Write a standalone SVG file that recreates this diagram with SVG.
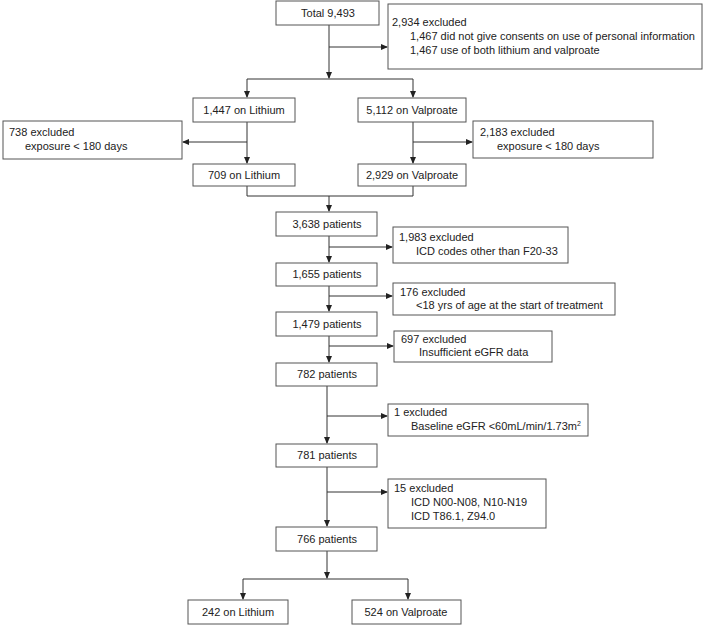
<svg xmlns="http://www.w3.org/2000/svg" width="708" height="627" viewBox="0 0 708 627">
<defs>
<marker id="ah" markerWidth="7" markerHeight="6" refX="6" refY="3" orient="auto" markerUnits="userSpaceOnUse">
<path d="M0,0 L7,3 L0,6 z" fill="#222"/>
</marker>
<style>
rect{fill:#fff;stroke:#555;stroke-width:1}
text{font-family:"Liberation Sans",Arial,sans-serif;font-size:11px;fill:#222}
.c{text-anchor:middle}
#connectors path{fill:none;stroke:#333;stroke-width:1}
.a{marker-end:url(#ah)}
</style>
</defs>
<rect x="0" y="0" width="708" height="627" style="fill:#fff;stroke:none"/>
<g id="connectors">
<path class="a" d="M329,25 V78"/>
<path class="a" d="M329,47 H387"/>
<path d="M247,79 H413"/>
<path class="a" d="M247,79 V97"/>
<path class="a" d="M413,79 V97"/>
<path class="a" d="M247,122 V163"/>
<path class="a" d="M247,142 H183"/>
<path class="a" d="M413,122 V163"/>
<path class="a" d="M413,142 H472"/>
<path d="M247,186 V196 H413 V186"/>
<path class="a" d="M329,196 V211"/>
<path class="a" d="M329,236 V262"/>
<path class="a" d="M329,247 H392"/>
<path class="a" d="M329,286 V311"/>
<path class="a" d="M329,296 H392"/>
<path class="a" d="M329,336 V362"/>
<path class="a" d="M329,346 H393"/>
<path class="a" d="M327,386 V443"/>
<path class="a" d="M327,416 H387"/>
<path class="a" d="M327,467 V526"/>
<path class="a" d="M327,492 H387"/>
<path class="a" d="M327,551 V578"/>
<path d="M243,579 H408"/>
<path class="a" d="M243,579 V599"/>
<path class="a" d="M408,579 V599"/>
</g>
<g id="total"><rect x="276" y="1" width="103" height="24"/><text class="c" x="328" y="17">Total 9,493</text></g>
<g id="excl1"><rect x="388" y="4" width="314" height="65"/>
<text x="392" y="26">2,934 excluded</text>
<text x="410" y="40">1,467 did not give consents on use of personal information</text>
<text x="410" y="54">1,467 use of both lithium and valproate</text></g>
<g id="li1"><rect x="193" y="98" width="102" height="24"/><text class="c" x="244" y="114">1,447 on Lithium</text></g>
<g id="va1"><rect x="358" y="98" width="108" height="24"/><text class="c" x="412" y="114">5,112 on Valproate</text></g>
<g id="excl2"><rect x="3" y="121" width="179" height="38"/>
<text x="9" y="136">738 excluded</text>
<text x="25" y="150">exposure &lt; 180 days</text></g>
<g id="excl3"><rect x="473" y="121" width="180" height="37"/>
<text x="480" y="136">2,183 excluded</text>
<text x="497" y="150">exposure &lt; 180 days</text></g>
<g id="li2"><rect x="193" y="164" width="102" height="22"/><text class="c" x="244" y="179">709 on Lithium</text></g>
<g id="va2"><rect x="358" y="164" width="108" height="22"/><text class="c" x="412" y="179">2,929 on Valproate</text></g>
<g id="p3638"><rect x="276" y="212" width="101" height="24"/><text class="c" x="327" y="228">3,638 patients</text></g>
<g id="excl4"><rect x="393" y="227" width="175" height="36"/>
<text x="399" y="241">1,983 excluded</text>
<text x="416" y="255">ICD codes other than F20-33</text></g>
<g id="p1655"><rect x="276" y="263" width="101" height="23"/><text class="c" x="327" y="278">1,655 patients</text></g>
<g id="excl5"><rect x="393" y="283" width="222" height="32"/>
<text x="400" y="296">176 excluded</text>
<text x="416" y="309">&lt;18 yrs of age at the start of treatment</text></g>
<g id="p1479"><rect x="276" y="312" width="101" height="24"/><text class="c" x="327" y="328">1,479 patients</text></g>
<g id="excl6"><rect x="394" y="331" width="158" height="31"/>
<text x="401" y="343">697 excluded</text>
<text x="419" y="356">Insufficient eGFR data</text></g>
<g id="p782"><rect x="276" y="363" width="101" height="23"/><text class="c" x="327" y="378">782 patients</text></g>
<g id="excl7"><rect x="388" y="404" width="200" height="32"/>
<text x="394" y="416">1 excluded</text>
<text x="411" y="430">Baseline eGFR &lt;60mL/min/1.73m<tspan dy="-4" font-size="7">2</tspan></text></g>
<g id="p781"><rect x="276" y="444" width="101" height="23"/><text class="c" x="327" y="459">781 patients</text></g>
<g id="excl8"><rect x="388" y="479" width="158" height="49"/>
<text x="394" y="492">15 excluded</text>
<text x="411" y="506">ICD N00-N08, N10-N19</text>
<text x="411" y="520">ICD T86.1, Z94.0</text></g>
<g id="p766"><rect x="276" y="527" width="101" height="24"/><text class="c" x="327" y="543">766 patients</text></g>
<g id="li3"><rect x="188" y="600" width="100" height="24"/><text class="c" x="238" y="616">242 on Lithium</text></g>
<g id="va3"><rect x="352" y="600" width="109" height="24"/><text class="c" x="406" y="616">524 on Valproate</text></g>
</svg>
